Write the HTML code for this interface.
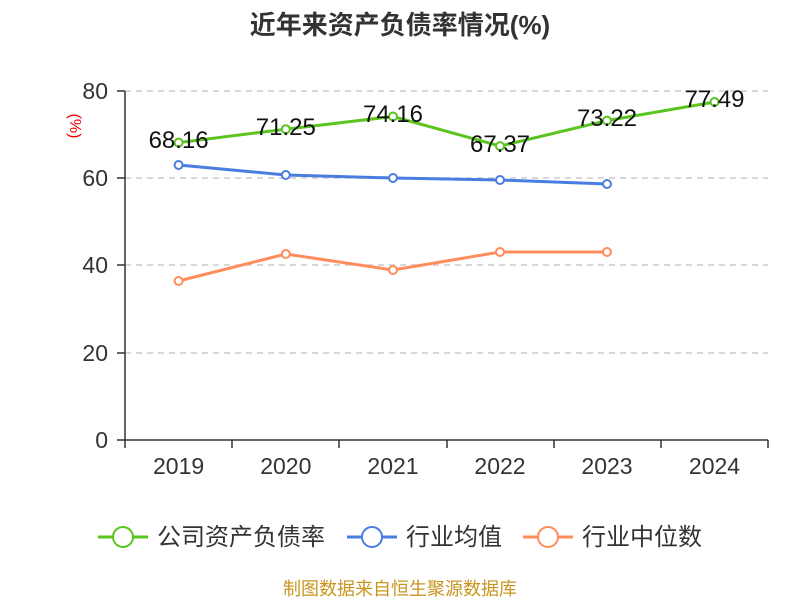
<!DOCTYPE html>
<html><head><meta charset="utf-8"><style>body{margin:0;background:#fff}</style></head><body>
<svg width="800" height="600" xmlns="http://www.w3.org/2000/svg" font-family="Liberation Sans, Noto Sans CJK SC, sans-serif">
<text x="400" y="34" text-anchor="middle" font-size="26" font-weight="bold" fill="#333">近年来资产负债率情况(%)</text>
<text x="70" y="126" font-size="16" fill="#e00" transform="rotate(90 70 126)" text-anchor="middle">(%)</text>
<g stroke="#ccc" stroke-dasharray="6,5" stroke-width="1.5">
<line x1="125" y1="91" x2="768" y2="91"/><line x1="125" y1="178" x2="768" y2="178"/><line x1="125" y1="265" x2="768" y2="265"/><line x1="125" y1="353" x2="768" y2="353"/>
</g>
<g stroke="#333" stroke-width="1.5">
<line x1="125" y1="91" x2="125" y2="440"/><line x1="125" y1="440" x2="768" y2="440"/>
<line x1="117" y1="91" x2="125" y2="91"/><line x1="117" y1="178" x2="125" y2="178"/><line x1="117" y1="265" x2="125" y2="265"/><line x1="117" y1="353" x2="125" y2="353"/><line x1="117" y1="440" x2="125" y2="440"/>
<line x1="125" y1="440" x2="125" y2="448"/><line x1="232" y1="440" x2="232" y2="448"/><line x1="339" y1="440" x2="339" y2="448"/><line x1="447" y1="440" x2="447" y2="448"/><line x1="554" y1="440" x2="554" y2="448"/><line x1="661" y1="440" x2="661" y2="448"/><line x1="768" y1="440" x2="768" y2="448"/>
</g>
<g font-size="23" fill="#333" text-anchor="end">
<text x="108" y="99">80</text><text x="108" y="186">60</text><text x="108" y="273">40</text><text x="108" y="361">20</text><text x="108" y="448">0</text>
</g>
<g font-size="23" fill="#333" text-anchor="middle">
<text x="178.6" y="474">2019</text><text x="285.8" y="474">2020</text><text x="393" y="474">2021</text><text x="500" y="474">2022</text><text x="607" y="474">2023</text><text x="714.5" y="474">2024</text>
</g>
<g fill="#fff" stroke-width="3">
<polyline fill="none" stroke="#ff8c5a" points="178.6,281 285.8,254 393,270 500,252 607,252"/>
<g stroke="#ff8c5a" stroke-width="2"><circle cx="178.6" cy="281" r="4"/><circle cx="285.8" cy="254" r="4"/><circle cx="393" cy="270" r="4"/><circle cx="500" cy="252" r="4"/><circle cx="607" cy="252" r="4"/></g>
<polyline fill="none" stroke="#4a7de0" points="178.6,165 285.8,175 393,178 500,180 607,184"/>
<g stroke="#4a7de0" stroke-width="2"><circle cx="178.6" cy="165" r="4"/><circle cx="285.8" cy="175" r="4"/><circle cx="393" cy="178" r="4"/><circle cx="500" cy="180" r="4"/><circle cx="607" cy="184" r="4"/></g>
<polyline fill="none" stroke="#5cc41e" points="178.6,142.6 285.8,129.2 393,116.5 500,146.1 607,120.6 714.5,102"/>
<g stroke="#5cc41e" stroke-width="2"><circle cx="178.6" cy="142.6" r="4"/><circle cx="285.8" cy="129.2" r="4"/><circle cx="393" cy="116.5" r="4"/><circle cx="500" cy="146.1" r="4"/><circle cx="607" cy="120.6" r="4"/><circle cx="714.5" cy="102" r="4"/></g>
</g>
<g font-size="24" fill="#111" text-anchor="middle">
<text x="178.6" y="148">68.16</text><text x="285.8" y="135">71.25</text><text x="393" y="122">74.16</text><text x="500" y="152">67.37</text><text x="607" y="126">73.22</text><text x="714.5" y="107">77.49</text>
</g>
<g font-size="24" fill="#333">
<line x1="98" y1="537" x2="148" y2="537" stroke="#5cc41e" stroke-width="3"/><circle cx="123" cy="537" r="10" fill="#fff" stroke="#5cc41e" stroke-width="2"/>
<text x="157" y="545">公司资产负债率</text>
<line x1="347" y1="537" x2="397" y2="537" stroke="#4a7de0" stroke-width="3"/><circle cx="372" cy="537" r="10" fill="#fff" stroke="#4a7de0" stroke-width="2"/>
<text x="406" y="545">行业均值</text>
<line x1="523" y1="537" x2="573" y2="537" stroke="#ff8c5a" stroke-width="3"/><circle cx="548" cy="537" r="10" fill="#fff" stroke="#ff8c5a" stroke-width="2"/>
<text x="582" y="545">行业中位数</text>
</g>
<text x="400" y="595" text-anchor="middle" font-size="18" fill="#c8961e">制图数据来自恒生聚源数据库</text>
</svg>
</body></html>
